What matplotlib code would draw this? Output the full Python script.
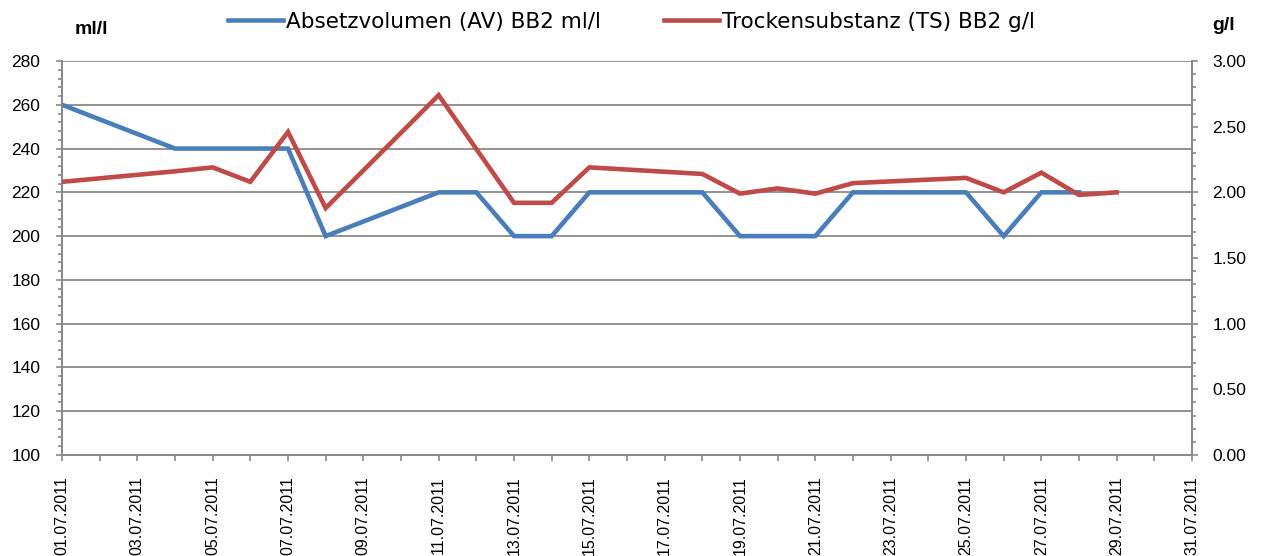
import matplotlib
matplotlib.use("Agg")
import matplotlib.pyplot as plt
import matplotlib.dates as mdates
from matplotlib.ticker import MultipleLocator, FormatStrFormatter
from datetime import date

# Data
av_days = [1, 4, 5, 6, 7, 8, 11, 12, 13, 14, 15, 18, 19, 21, 22, 25, 26, 27, 28]
av_values = [260, 240, 240, 240, 240, 200, 220, 220, 200, 200, 220, 220, 200, 200, 220, 220, 200, 220, 220]
ts_days = [1, 4, 5, 6, 7, 8, 11, 13, 14, 15, 18, 19, 20, 21, 22, 25, 26, 27, 28, 29]
ts_values = [2.08, 2.16, 2.19, 2.08, 2.46, 1.88, 2.74, 1.92, 1.92, 2.19, 2.14, 1.99, 2.03, 1.99, 2.07, 2.11, 2.00, 2.15, 1.98, 2.00]
av_label = "Absetzvolumen (AV) BB2 ml/l"
ts_label = "Trockensubstanz (TS) BB2 g/l"

av_dates = [date(2011, 7, d) for d in av_days]
ts_dates = [date(2011, 7, d) for d in ts_days]

BLUE = "#4A7EBB"
RED = "#BE4B48"
GRAY = "#898989"
TICKFONT = "Liberation Sans"

fig = plt.figure(figsize=(12.63, 5.56), dpi=100)
ax = fig.add_axes([62/1263, 1-455/556, (1192-62)/1263, (455-61)/556])
ax2 = ax.twinx()

l1, = ax.plot(av_dates, av_values, color=BLUE, lw=3.3, solid_joinstyle="miter", label=av_label, zorder=3)
l2, = ax2.plot(ts_dates, ts_values, color=RED, lw=3.3, solid_joinstyle="miter", label=ts_label, zorder=3)

ax.set_xlim(date(2011, 7, 1), date(2011, 7, 31))
ax.set_ylim(100, 280)
ax2.set_ylim(0, 3.0)

ax.xaxis.set_major_locator(mdates.DayLocator(bymonthday=range(1, 32, 2)))
ax.xaxis.set_minor_locator(mdates.DayLocator())
ax.xaxis.set_major_formatter(mdates.DateFormatter("%d.%m.%Y"))

ax.yaxis.set_major_locator(MultipleLocator(20))
ax.yaxis.set_minor_locator(MultipleLocator(4))
ax2.yaxis.set_major_locator(MultipleLocator(0.5))
ax2.yaxis.set_minor_locator(MultipleLocator(0.1))
ax2.yaxis.set_major_formatter(FormatStrFormatter("%.2f"))

ax.grid(axis="y", which="major", color=GRAY, lw=1.3, zorder=0)
ax.set_axisbelow(True)

for a in (ax, ax2):
    for s in a.spines.values():
        s.set_color(GRAY)
        s.set_linewidth(1.3)
    a.spines["top"].set_visible(False)
    a.tick_params(which="both", color=GRAY, width=1.2, direction="out")
    a.tick_params(which="major", length=4.5)
    a.tick_params(which="minor", length=3)

ax.tick_params(axis="x", which="both", length=4.3)
ax.tick_params(axis="x", which="major", pad=11, labelsize=11.5)
ax.tick_params(axis="y", which="major", pad=11, labelsize=12.5)
ax2.tick_params(axis="y", which="major", pad=10, labelsize=12.5)
for lbl in ax.get_xticklabels():
    lbl.set_rotation(90)
    lbl.set_fontfamily(TICKFONT)
for lbl in ax.get_yticklabels() + ax2.get_yticklabels():
    lbl.set_fontfamily(TICKFONT)

fig.text(75/1263, 1-29/556, "ml/l", fontsize=14, fontweight="bold", family=TICKFONT, va="center", ha="left")
fig.text(1212/1263, 1-25/556, "g/l", fontsize=14, fontweight="bold", family=TICKFONT, va="center", ha="left")

fig.legend(handles=[l1, l2], loc="center", bbox_to_anchor=(0.5, 1-22/556), ncol=2, frameon=False,
           handlelength=2.55, handletextpad=0.15, columnspacing=2.9,
           prop={"family": "DejaVu Sans", "size": 15.5})

fig.savefig("out.png", dpi=100)
